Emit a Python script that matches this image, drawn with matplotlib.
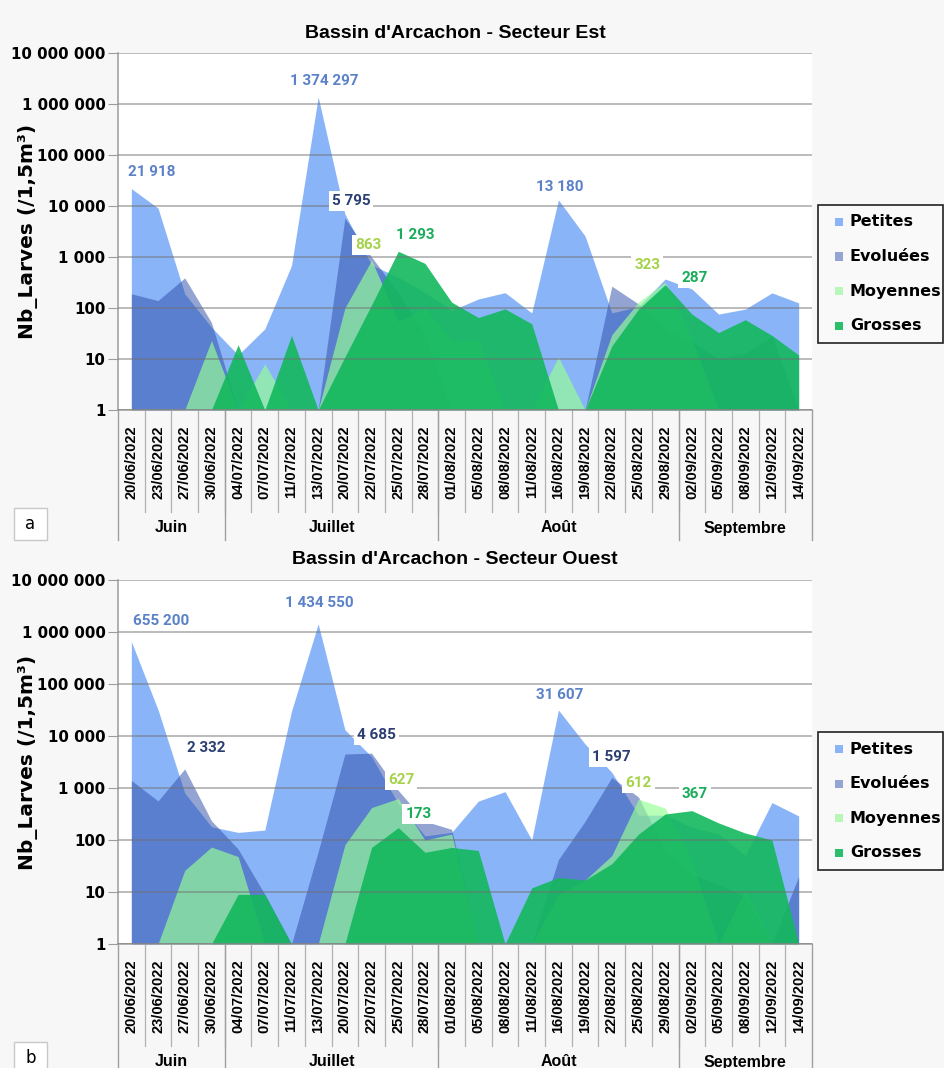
import matplotlib
matplotlib.use('Agg')
import matplotlib.pyplot as plt
import matplotlib.transforms as mtransforms
from matplotlib.patches import Rectangle
from matplotlib.ticker import NullLocator
import numpy as np

# sampling dates and month groups
dates = ['20/06/2022', '23/06/2022', '27/06/2022', '30/06/2022',
         '04/07/2022', '07/07/2022', '11/07/2022', '13/07/2022',
         '20/07/2022', '22/07/2022', '25/07/2022', '28/07/2022',
         '01/08/2022', '05/08/2022', '08/08/2022', '11/08/2022',
         '16/08/2022', '19/08/2022', '22/08/2022', '25/08/2022',
         '29/08/2022', '02/09/2022', '05/09/2022', '08/09/2022',
         '12/09/2022', '14/09/2022']
months = ['Juin', 'Juillet', 'Août', 'Septembre']
month_sizes = [4, 8, 9, 5]
stages = ['Petites', 'Evoluées', 'Moyennes', 'Grosses']

# Secteur Est (larves / 1,5 m3)
est_petites = [21918, 9100, 190, 42, 12, 39, 680, 1374297, 7000, 700, 400, 200, 90,
               150, 200, 80, 13180, 2570, 80, 107, 370, 236, 76, 95, 198, 126]
est_evoluees = [190, 140, 390, 52, 0, 0, 0, 0, 5795, 1000, 200, 30, 0,
                0, 0, 0, 0, 0, 268, 120, 40, 22, 10, 13, 28, 0]
est_moyennes = [0, 0, 0, 23, 0, 8, 0, 0, 100, 863, 55, 100, 23,
                23, 0, 0, 11, 0, 30, 130, 323, 25, 0, 0, 0, 0]
est_grosses = [0, 0, 0, 0, 19, 0, 29, 0, 11, 115, 1293, 750, 130,
               65, 96, 49, 0, 0, 18, 95, 287, 76, 33, 59, 29, 12]

# Secteur Ouest
ouest_petites = [655200, 32000, 800, 180, 140, 155, 30000, 1434550, 13200, 4000, 500, 120, 140,
                 560, 850, 100, 31607, 7000, 2000, 300, 300, 175, 130, 50, 525, 290]
ouest_evoluees = [1400, 565, 2332, 235, 67, 9, 0, 60, 4500, 4685, 900, 230, 160,
                  0, 0, 0, 42, 230, 1597, 670, 63, 22, 14, 8, 0, 20]
ouest_moyennes = [0, 0, 26, 73, 48, 0, 0, 0, 81, 420, 627, 100, 130,
                  0, 0, 0, 9, 17, 50, 612, 410, 40, 0, 11, 0, 0]
ouest_grosses = [0, 0, 0, 0, 9, 9, 0, 0, 0, 72, 173, 58, 72,
                 63, 0, 12, 19, 17, 35, 130, 316, 367, 213, 136, 100, 0]

# (stage index, date index) of the annotated maxima
est_labels = [(0, 0), (0, 7), (0, 16), (1, 8), (2, 9), (2, 20), (3, 10), (3, 20)]
ouest_labels = [(0, 0), (0, 7), (0, 16), (1, 2), (1, 9), (1, 18), (2, 10), (2, 19), (3, 10), (3, 21)]

# label nudges in pixels, so the values do not collide
est_nudge = [(20, 17), (6, 16), (1, 13), (6, 17), (-3, 15), (-18, 17), (17, 16), (29, 7)]
ouest_nudge = [(30, 21), (1, 21), (1, 15), (22, 21), (5, 18), (0, 20), (3, 19), (0, 16), (20, 14), (3, 17)]

fills = {'Petites': ('#8ab4f8', 1.0), 'Evoluées': ('#2b4ba7', 0.5),
         'Moyennes': ('#96ff95', 0.67), 'Grosses': ('#12b85c', 0.9)}
swatch = {'Petites': '#8ab4f8', 'Evoluées': '#95a5d3', 'Moyennes': '#b7f7b7', 'Grosses': '#2cbf6b'}
label_colors = ['#5b82c8', '#2c3f73', '#a5d24a', '#19ad5b']

W, H = 945, 1068
fig = plt.figure(figsize=(W / 100, H / 100), dpi=100, facecolor='#f7f7f7')


def fy(py):
    # pixel row -> figure fraction
    return 1 - py / H


def fmt(v):
    return f'{int(v):,}'.replace(',', ' ')


def panel(top, bottom, title, data, labels, nudges, tag):
    ax = fig.add_axes([118 / W, fy(bottom), (812 - 118) / W, (bottom - top) / H])
    ax.set_facecolor('white')
    x = np.arange(len(dates))
    for vals, name in zip(data, stages):
        c, a = fills[name]
        ax.fill_between(x, 1, np.maximum(np.array(vals, float), 1), color=c, alpha=a, lw=0, zorder=2)

    ax.set_yscale('log')
    ax.set_ylim(1, 1e7)
    ax.set_xlim(-0.5, len(dates) - 0.5)
    yt = 10.0 ** np.arange(0, 8)
    ax.set_yticks(yt)
    ax.set_yticklabels([fmt(v) for v in yt], fontsize=10.8, fontweight='bold', family='DejaVu Sans')
    ax.yaxis.set_minor_locator(NullLocator())
    ax.tick_params(axis='y', length=7, color='#9c9c9c', pad=2)
    ax.grid(axis='y', color='#6f6f6f', lw=1.1, alpha=0.6, zorder=3)
    ax.set_axisbelow(False)

    ax.set_xticks(x)
    ax.set_xticklabels(dates, rotation=90, fontsize=10.5, fontweight='bold', family='Liberation Sans')
    ax.tick_params(axis='x', length=0, pad=11)

    for s in ['top', 'right']:
        ax.spines[s].set_visible(False)
    for s in ['left', 'bottom']:
        ax.spines[s].set_color('#9c9c9c')
        ax.spines[s].set_linewidth(1.1)

    # category separators under the axis
    tr = mtransforms.blended_transform_factory(ax.transData, fig.transFigure)
    for b in np.arange(0.5, len(dates) - 1):
        ax.plot([b, b], [fy(bottom), fy(bottom + 102)], color='#b0b0b0', lw=0.9,
                transform=tr, clip_on=False)
    edges = np.concatenate([[0], np.cumsum(month_sizes)]) - 0.5
    for b in edges:
        ax.plot([b, b], [fy(bottom), fy(bottom + 130)], color='#a0a0a0', lw=1.0,
                transform=tr, clip_on=False)
    for m, a0, a1 in zip(months, edges[:-1], edges[1:]):
        ax.text((a0 + a1) / 2, fy(bottom + 118), m, transform=tr, ha='center', va='center',
                fontsize=11.5, fontweight='bold', family='Liberation Sans')

    for (si, idx), (dx, dyl) in zip(labels, nudges):
        v = data[si][idx]
        ax.annotate(fmt(v), (idx, v), xytext=(dx, dyl), textcoords='offset pixels',
                    ha='center', va='center', color=label_colors[si], fontsize=11,
                    fontweight='bold', family='Roboto', zorder=6,
                    bbox=dict(boxstyle='square,pad=0.2', fc='white', ec='none'))

    fig.text(455 / W, fy(top - 20), title, ha='center', va='center',
             fontsize=14, fontweight='bold', family='Liberation Sans')
    fig.text(28 / W, fy((top + bottom) / 2), 'Nb_Larves (/1,5m³)', rotation=90,
             ha='center', va='center', fontsize=14.5, fontweight='bold', family='DejaVu Sans')

    # legend box
    lt = top + 152
    fig.add_artist(Rectangle((818 / W, fy(lt + 138)), 125 / W, 138 / H, transform=fig.transFigure,
                             fc='#f9f9f9', ec='#222222', lw=1.2))
    for k, n in enumerate(stages):
        ry = lt + 17 + k * 34.5
        fig.add_artist(Rectangle((835 / W, fy(ry + 4)), 8 / W, 8 / H, transform=fig.transFigure,
                                 fc=swatch[n], ec='none'))
        fig.text(850 / W, fy(ry), n, ha='left', va='center', fontsize=11.5,
                 fontweight='bold', family='DejaVu Sans')

    fig.add_artist(Rectangle((14 / W, fy(bottom + 130)), 33 / W, 32 / H,
                             transform=fig.transFigure, fc='white', ec='#c8c8c8', lw=1))
    fig.text(30.5 / W, fy(bottom + 114), tag, ha='center', va='center',
             fontsize=12, family='DejaVu Sans')
    return ax


panel(53, 410, "Bassin d'Arcachon - Secteur Est",
      [est_petites, est_evoluees, est_moyennes, est_grosses], est_labels, est_nudge, 'a')
panel(580, 944, "Bassin d'Arcachon - Secteur Ouest",
      [ouest_petites, ouest_evoluees, ouest_moyennes, ouest_grosses], ouest_labels, ouest_nudge, 'b')

fig.savefig('out.png', dpi=100, facecolor=fig.get_facecolor())
